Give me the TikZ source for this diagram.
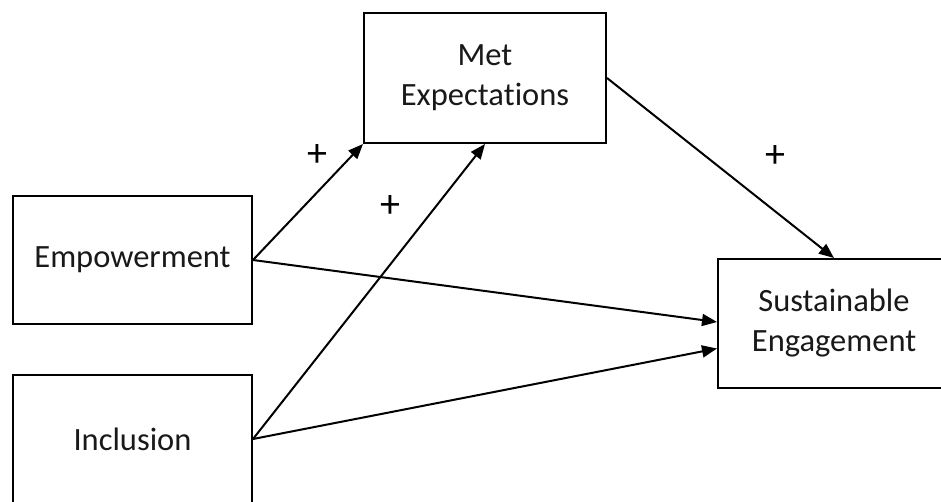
\documentclass[tikz,border=0pt]{standalone}
\usepackage{fontspec}
\setmainfont{Carlito}[RawFeature={-liga;-clig;-calt;-dlig}]
\usetikzlibrary{arrows.meta}
\begin{document}
\begin{tikzpicture}[x=1pt,y=-1pt,
  box/.style={draw=black,line width=2pt,rectangle,inner sep=0pt,align=center,
    font=\fontsize{32.5}{40}\selectfont,text=black!90},
  conn/.style={line width=2pt,-{Triangle[length=15pt,width=12pt]}},
  sign/.style={font=\fontsize{40}{44}\selectfont,text=black}]
\useasboundingbox (0,0) rectangle (941,502);
\fill[white] (0,0) rectangle (941,502);
\node[box,minimum width=242pt,minimum height=130pt] (met) at (485,78) {Met\\Expecta\kern0pt tions};
\node[box,minimum width=239pt,minimum height=128pt] (emp) at (132.5,260) {Empowerment};
\node[box,minimum width=239pt,minimum height=128pt] (inc) at (132.5,439) {Inclusion};
\node[box,minimum width=232pt,minimum height=129pt] (se) at (834,323.5) {Sustainable\\Engagement};
\draw[conn] (emp.east) -- ([yshift=1.5pt]se.west);
\draw[conn] (inc.east) -- ([yshift=-25pt]se.west);
\draw[conn] (emp.east) -- (met.south west);
\draw[conn] (inc.east) -- (met.south);
\draw[conn] (met.east) -- (se.north);
\node[sign] (p1) at (317,156) {+};
\node[sign] (p2) at (390,207) {+};
\node[sign] (p3) at (775,157) {+};
\end{tikzpicture}
\end{document}
